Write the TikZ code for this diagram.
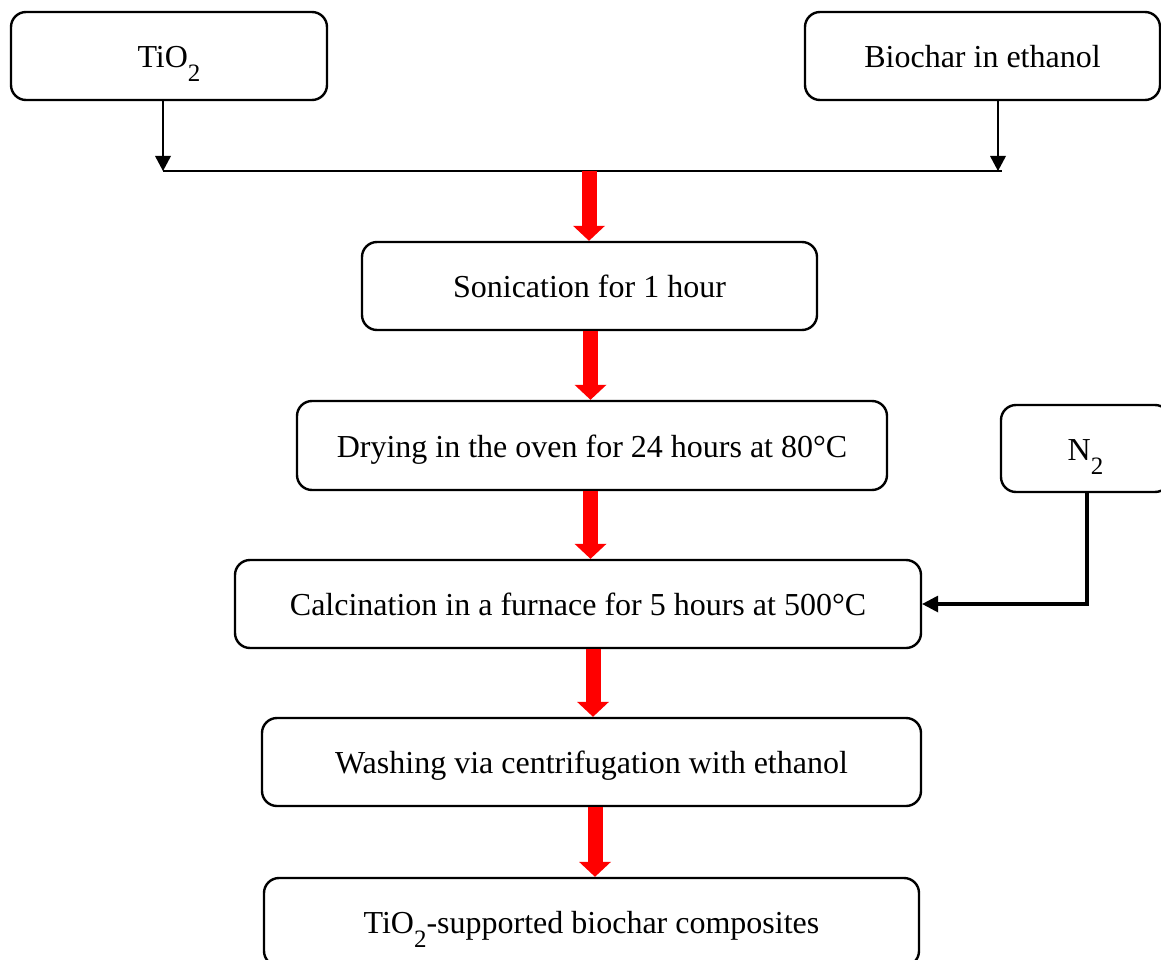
\documentclass[tikz,border=0pt]{standalone}
\usepackage{fontspec}
\setmainfont{Liberation Serif}
\usetikzlibrary{arrows.meta}
\newcommand\subtwo{\raisebox{-0.43em}{\fontsize{25}{25}\selectfont 2}}
\begin{document}
\begin{tikzpicture}[x=1pt,y=-1pt,
  every node/.style={font=\fontsize{32}{38}\selectfont},
  box/.style={draw=black, line width=2.4pt, rounded corners=15pt, inner sep=0pt,
    text height=23.5pt, text depth=0pt, minimum height=88pt},
  blk/.style={line width=2.2pt, -{Triangle[width=16pt,length=15pt,line width=0pt]}},
  blkthick/.style={line width=3.4pt, -{Triangle[width=17pt,length=16pt,line width=0pt]}},
  redarr/.style={draw=red, line width=15pt, -{Triangle[width=32pt,length=15pt,line width=0pt]}}
]
\useasboundingbox (0,0) rectangle (1161,960);

\node[box, minimum width=316pt] (tio) at (169,56) {TiO\subtwo};
\node[box, minimum width=355pt] (bio) at (982.5,56) {Biochar in ethanol};
\node[box, minimum width=455pt] (son) at (589.5,286) {Sonication for 1 hour};
\node[box, minimum width=590pt, minimum height=89pt] (dry) at (592,445.5) {Drying in the oven for 24 hours at 80°C};
\node[box, minimum width=169pt, minimum height=87pt] (n2) at (1085.5,448.5) {N\subtwo};
\node[box, minimum width=686pt] (cal) at (578,604) {Calcination in a furnace for 5 hours at 500°C};
\node[box, minimum width=659pt] (wash) at (591.5,762) {Washing via centrifugation with ethanol};
\node[box, minimum width=655pt] (fin) at (591.5,922) {TiO\subtwo-supported biochar composites};

\coordinate (jl) at (163,171);
\coordinate (jb) at (998,171);
\coordinate (jr) at (1002,171);
\coordinate (jm) at (589,171);
\coordinate (c2) at (590.5,0);
\coordinate (c3) at (590.5,0);
\coordinate (c4) at (593,0);
\coordinate (c5) at (595,0);
\coordinate (cn) at (1087,0);

\draw[blk] (tio.south -| jl) -- (jl);
\draw[blk] (bio.south -| jb) -- (jb);
\draw[line width=2.2pt] (jl) -- (jr);

\draw[redarr] (jm) -- (son.north -| jm);
\draw[redarr] (son.south -| c2) -- (dry.north -| c2);
\draw[redarr] (dry.south -| c3) -- (cal.north -| c3);
\draw[redarr] (cal.south -| c4) -- (wash.north -| c4);
\draw[redarr] (wash.south -| c5) -- (fin.north -| c5);

\draw[blkthick] (n2.south -| cn) |- (cal.east);
\end{tikzpicture}
\end{document}
